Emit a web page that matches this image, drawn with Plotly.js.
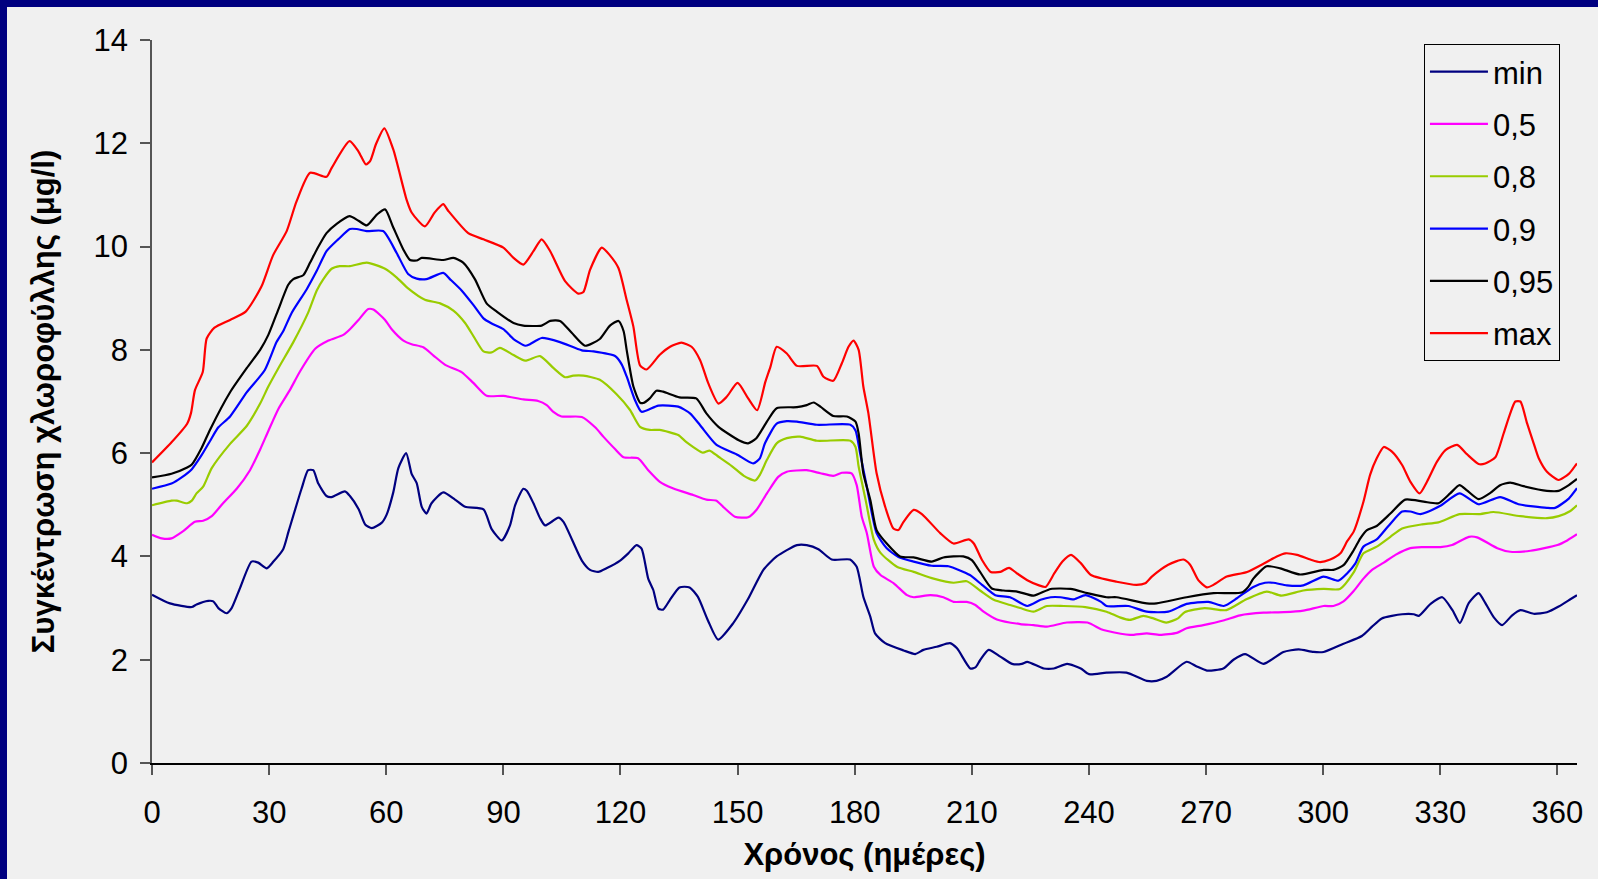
<!DOCTYPE html>
<html>
<head>
<meta charset="utf-8">
<script src="https://cdn.plot.ly/plotly-3.0.1.min.js"></script>
<style>
  html, body { margin: 0; padding: 0; background: #000080; width: 1598px; height: 879px; overflow: hidden; }
  #chart { position: absolute; left: 7px; top: 7px; width: 1591px; height: 872px; background: #f0f0f0; }
</style>
</head>
<body>
<div id="chart"></div>
<script>
// [day, value] pairs
const minData = [[0,3.26],[4.6,3.09],[10.2,3.02],[11.4,3.07],[14.4,3.14],[15.7,3.13],[17,3.00],[19.1,2.90],[20.4,3.00],[22.5,3.38],[25.5,3.90],[27.2,3.88],[29.4,3.77],[31.1,3.90],[33.6,4.14],[35,4.49],[38.3,5.31],[40,5.67],[41.3,5.67],[42.6,5.41],[44.7,5.17],[46,5.15],[49.4,5.26],[50.7,5.17],[52.9,4.92],[54.6,4.62],[56.3,4.55],[58.8,4.65],[60.1,4.81],[61.8,5.24],[63.1,5.71],[65.1,6.00],[66.5,5.60],[67.8,5.42],[69.1,4.96],[70.3,4.83],[71.6,5.03],[74.6,5.24],[77.6,5.10],[80.2,4.96],[84.9,4.91],[87,4.53],[89.6,4.31],[91.7,4.60],[93,4.99],[95.1,5.31],[96,5.27],[97.7,5.03],[99.4,4.74],[100.7,4.60],[104.1,4.75],[105.4,4.67],[110.1,3.92],[112.2,3.74],[114.3,3.70],[116.4,3.77],[119.9,3.92],[122,4.06],[124.1,4.22],[125.4,4.15],[127.1,3.57],[128.4,3.35],[129.7,2.99],[130.9,2.97],[132.6,3.15],[135.1,3.40],[137.7,3.40],[139.8,3.22],[142.4,2.76],[145,2.39],[148.8,2.70],[152.7,3.18],[156.6,3.74],[160,4.00],[165.2,4.22],[167.7,4.22],[170.7,4.14],[174.1,3.94],[178.8,3.94],[180.5,3.80],[182.2,3.22],[184,2.83],[185.2,2.51],[187.8,2.32],[192.5,2.18],[195.5,2.11],[197.6,2.19],[201,2.25],[204.4,2.32],[206.2,2.22],[209.6,1.83],[210.9,1.85],[212.1,1.99],[214.3,2.19],[217.3,2.06],[220.3,1.92],[222.8,1.92],[224.2,1.96],[228.4,1.83],[231,1.83],[234.4,1.92],[237.9,1.83],[240,1.72],[244.5,1.75],[249.6,1.75],[254.8,1.59],[257.3,1.59],[259.9,1.67],[265,1.96],[267.6,1.87],[270.2,1.79],[274.4,1.83],[277,2.00],[280,2.11],[284.7,1.92],[289.8,2.15],[293.7,2.20],[297.5,2.15],[300.1,2.15],[305.2,2.31],[309.9,2.46],[312.5,2.64],[315,2.80],[320.2,2.88],[323.2,2.88],[324.5,2.85],[327.5,3.08],[330.5,3.21],[333.1,2.96],[335,2.71],[337.3,3.10],[339.8,3.29],[341.5,3.10],[343.7,2.82],[345.8,2.67],[348.4,2.86],[350.5,2.96],[353.9,2.89],[357.3,2.92],[360.3,3.03],[363.3,3.17],[365,3.25]];

const p50Data = [[0,4.42],[2.5,4.35],[5,4.35],[8,4.49],[11,4.67],[13.1,4.69],[15.3,4.78],[18.2,5.03],[21.7,5.31],[25.1,5.67],[27.7,6.07],[29.8,6.43],[32.4,6.86],[35.3,7.22],[37.9,7.58],[41.8,8.02],[45.2,8.18],[49,8.29],[50.7,8.40],[52.9,8.58],[55.4,8.79],[56.7,8.78],[59.7,8.58],[61.4,8.40],[64.4,8.18],[66.5,8.11],[69.5,8.05],[72.1,7.89],[75.1,7.71],[79.3,7.57],[82.3,7.36],[85.7,7.11],[90,7.11],[95.1,7.04],[98.9,7.01],[101.1,6.93],[102.8,6.80],[104.9,6.71],[110.1,6.70],[113.5,6.50],[115.6,6.32],[118.6,6.08],[120.8,5.92],[124.5,5.90],[127.1,5.67],[130,5.45],[133.4,5.32],[138.6,5.19],[142,5.10],[144.6,5.08],[146.3,4.96],[149.3,4.77],[152.7,4.76],[154.8,4.90],[157.5,5.22],[160.4,5.54],[162.6,5.64],[167.7,5.67],[171.2,5.61],[174.5,5.56],[176.7,5.62],[179.2,5.61],[180.5,5.38],[181.8,4.77],[183.1,4.45],[184.9,3.80],[186.6,3.64],[190,3.48],[193.4,3.25],[195.1,3.21],[199.4,3.25],[202.7,3.21],[205.3,3.12],[208.7,3.12],[210.9,3.06],[213,2.93],[216.4,2.78],[222.4,2.69],[225.8,2.67],[229.2,2.64],[234.3,2.72],[239.6,2.72],[243.1,2.59],[244.5,2.56],[250.5,2.48],[254.8,2.51],[258.2,2.48],[262.5,2.52],[265,2.61],[269.3,2.67],[274.4,2.76],[278.7,2.86],[284.7,2.91],[289.9,2.92],[294.9,2.95],[300.1,3.04],[302.6,3.04],[305.2,3.13],[307.8,3.33],[310.3,3.57],[312.5,3.74],[315.5,3.88],[318.5,4.03],[322.3,4.16],[325.3,4.18],[330,4.18],[333,4.22],[337.3,4.38],[339.4,4.37],[344.6,4.16],[347.9,4.09],[353.1,4.11],[360,4.22],[362.5,4.31],[365,4.43]];

const p80Data = [[0,4.99],[5,5.08],[6.3,5.08],[9,5.03],[10.2,5.08],[11.4,5.22],[13.1,5.35],[15.3,5.71],[20,6.18],[24.3,6.53],[27.7,6.96],[29.8,7.29],[32.4,7.65],[36.2,8.15],[40,8.72],[42.2,9.15],[43.9,9.37],[46,9.57],[48.1,9.62],[50.7,9.62],[55,9.69],[59.7,9.57],[62.7,9.40],[65.6,9.19],[69.9,8.97],[73.8,8.90],[77.2,8.76],[80.2,8.52],[82.7,8.22],[84.9,7.97],[87,7.95],[89.1,8.04],[92.6,7.90],[95.6,7.79],[99.4,7.88],[102.8,7.65],[105.8,7.47],[107.9,7.50],[110.5,7.50],[114.7,7.42],[119,7.14],[122.4,6.84],[125,6.51],[127.5,6.45],[130,6.45],[134.8,6.35],[136.8,6.22],[141.1,6.01],[142.8,6.05],[145.1,5.93],[148.5,5.75],[151.6,5.56],[154.5,5.47],[155.7,5.58],[157.5,5.87],[160,6.19],[162.6,6.29],[166,6.32],[170.3,6.24],[178.9,6.24],[180.2,6.12],[181,5.74],[182.8,5.09],[184.9,4.32],[186.6,4.07],[190.8,3.80],[195.1,3.70],[200.2,3.57],[205.3,3.49],[208.7,3.52],[212.1,3.34],[215.6,3.16],[219.8,3.06],[222.4,3.00],[225.8,2.93],[229.2,3.04],[233.5,3.04],[239.1,3.02],[244.5,2.93],[247.9,2.82],[250.5,2.77],[253.9,2.85],[256.5,2.80],[259.8,2.72],[262.8,2.80],[264.5,2.92],[269.6,3.00],[275.2,2.96],[280.3,3.17],[285.5,3.32],[289.3,3.24],[294.9,3.34],[300.1,3.37],[304.3,3.37],[307.8,3.69],[310.3,4.06],[313.7,4.19],[317.2,4.38],[320.2,4.54],[325.3,4.62],[329.5,4.66],[334.9,4.82],[340.2,4.82],[343.6,4.86],[350.5,4.78],[357.3,4.74],[360.3,4.78],[363.3,4.88],[365,4.99]];

const p90Data = [[0,5.31],[5,5.41],[7.6,5.53],[10.2,5.69],[12.7,5.96],[14.9,6.24],[17,6.50],[20,6.71],[24.3,7.18],[28.9,7.61],[31.9,8.15],[33.6,8.36],[35.8,8.72],[39.6,9.17],[42.2,9.53],[44.7,9.91],[47.7,10.14],[50.7,10.34],[52.4,10.34],[55,10.30],[59.2,10.30],[62.7,9.87],[65.6,9.47],[67.8,9.38],[70.3,9.37],[74.6,9.49],[76.3,9.37],[79.3,9.15],[82.3,8.87],[84.9,8.61],[87,8.51],[90,8.40],[92.6,8.21],[95.6,8.08],[96.8,8.11],[99.8,8.23],[104.5,8.15],[110.1,7.99],[113.1,7.97],[118.6,7.88],[120.3,7.72],[121.6,7.48],[123.7,7.03],[125.4,6.80],[129.7,6.92],[134.8,6.90],[137.8,6.77],[140.4,6.54],[144.6,6.16],[149.7,5.98],[154,5.80],[155.7,5.90],[157,6.19],[160,6.57],[162.6,6.62],[165.2,6.61],[170.3,6.55],[178.9,6.55],[180.2,6.44],[181.4,5.99],[183.1,5.35],[185.6,4.45],[188.2,4.16],[191.2,3.99],[195.1,3.90],[199.7,3.82],[204,3.81],[209.5,3.64],[212.6,3.45],[216,3.25],[219.8,3.21],[224.2,3.04],[227.6,3.16],[230.2,3.21],[232.7,3.21],[236.2,3.17],[239.1,3.25],[243.1,3.12],[244.5,3.04],[250.1,3.04],[254.8,2.93],[260.3,2.93],[265,3.08],[270.6,3.12],[274.5,3.04],[277.9,3.19],[282.1,3.41],[285.1,3.49],[287.2,3.49],[290.7,3.44],[294.9,3.44],[300.1,3.61],[303.9,3.53],[306.1,3.67],[308.2,3.86],[310.3,4.19],[313.7,4.33],[316.7,4.59],[320.2,4.87],[322.3,4.87],[324.9,4.82],[330,4.98],[334.9,5.22],[339.8,5.01],[345.3,5.15],[350,5.01],[357.3,4.94],[359.4,4.94],[362.9,5.12],[365,5.32]];

const p95Data = [[0,5.53],[5,5.60],[9,5.72],[10.2,5.78],[12.7,6.10],[14.9,6.46],[20,7.18],[24.3,7.65],[27.7,8.00],[29.8,8.29],[32.4,8.79],[34.9,9.26],[36.2,9.37],[38.8,9.45],[40.5,9.69],[42.2,9.94],[44.7,10.26],[47.3,10.44],[50.6,10.59],[52.9,10.50],[55,10.41],[57.6,10.62],[59.7,10.72],[61.8,10.37],[64.4,9.94],[66.1,9.74],[67.8,9.73],[69.1,9.78],[74.6,9.74],[77.2,9.78],[79.7,9.69],[82.7,9.37],[85.7,8.90],[88.3,8.74],[92.6,8.52],[95.1,8.47],[99.8,8.47],[102,8.56],[104.5,8.56],[107.5,8.33],[110.9,8.08],[114.7,8.21],[117.3,8.47],[119.5,8.56],[120.8,8.36],[121.6,7.99],[123.3,7.29],[125,6.98],[125.8,6.97],[127.5,7.06],[129.2,7.21],[130.9,7.19],[135.1,7.08],[139.4,7.06],[142,6.77],[145.1,6.51],[150.3,6.25],[152.7,6.19],[154.8,6.29],[157.5,6.61],[160,6.87],[165.2,6.89],[167.7,6.93],[169.5,6.98],[171.2,6.90],[174.5,6.72],[178,6.71],[180.2,6.61],[181,6.38],[182.2,5.61],[184,5.09],[185.6,4.51],[188.2,4.25],[191.6,4.00],[195.1,3.98],[199.7,3.90],[202.7,3.98],[205.3,4.00],[207.8,4.00],[210,3.93],[212.1,3.70],[215.1,3.38],[218.1,3.34],[221.6,3.32],[225.8,3.24],[230.2,3.37],[235.3,3.37],[239.6,3.29],[244.5,3.21],[247.1,3.21],[254.8,3.09],[257.3,3.09],[265,3.21],[271.9,3.29],[279.1,3.30],[280.8,3.41],[282.1,3.57],[285.5,3.81],[289,3.77],[294.1,3.65],[300.1,3.74],[302.6,3.74],[305.2,3.83],[307.8,4.12],[309.5,4.35],[311.2,4.51],[313.7,4.59],[317.2,4.83],[321,5.10],[325.7,5.06],[329.5,5.03],[332.5,5.22],[334.9,5.38],[336.8,5.28],[339.8,5.11],[342.8,5.23],[345.3,5.38],[347.9,5.43],[351.3,5.36],[357.3,5.27],[360.3,5.27],[362.9,5.38],[365,5.50]];

const maxData = [[0,5.82],[5,6.21],[9,6.57],[10,6.78],[11,7.22],[13,7.57],[14,8.22],[16,8.43],[20,8.58],[24,8.74],[28,9.22],[31,9.83],[34.5,10.30],[37,10.87],[40.5,11.43],[44.7,11.35],[46,11.52],[50.6,12.04],[52.9,11.84],[54.8,11.59],[55.9,11.66],[57.4,11.99],[59.5,12.29],[61.8,11.88],[65.2,10.91],[66.5,10.66],[69.9,10.39],[72.4,10.66],[74.6,10.82],[75.9,10.69],[81,10.26],[84.9,10.14],[90,9.98],[92.6,9.78],[95.1,9.65],[97.7,9.91],[99.8,10.14],[102,9.91],[105.8,9.33],[109.2,9.09],[110.5,9.12],[112.2,9.55],[115.2,9.98],[117.3,9.83],[119.5,9.58],[121.6,8.96],[123.3,8.45],[125,7.70],[126.7,7.62],[130,7.90],[132.7,8.06],[135.6,8.14],[138.2,8.06],[140.4,7.80],[142.5,7.35],[145.1,6.96],[147.2,7.09],[150,7.36],[152.7,7.06],[155,6.83],[157.1,7.38],[158.4,7.67],[160,8.06],[162.6,7.93],[165.2,7.69],[170.3,7.69],[172,7.48],[174.5,7.40],[176.7,7.74],[178.4,8.06],[179.7,8.18],[181,8.00],[182.2,7.29],[183.5,6.77],[185.6,5.61],[187.8,4.96],[189.9,4.54],[191.2,4.51],[192.5,4.67],[195.1,4.90],[197.2,4.82],[201.9,4.45],[205.3,4.25],[209.2,4.33],[210.5,4.25],[212.6,3.93],[214.8,3.70],[217.3,3.70],[219.5,3.78],[221.6,3.67],[224.2,3.54],[227.2,3.44],[228.9,3.41],[231.1,3.67],[233.2,3.90],[235.4,4.03],[237.9,3.87],[240.5,3.64],[247.1,3.51],[252.2,3.45],[254.4,3.48],[256.1,3.61],[260.3,3.84],[264.2,3.94],[265.9,3.84],[268,3.54],[270.2,3.40],[271.9,3.45],[275.3,3.61],[280.5,3.70],[284.7,3.86],[288.1,4.00],[290.3,4.06],[293.3,4.03],[296.7,3.94],[299.2,3.89],[301.8,3.94],[304.4,4.06],[306.1,4.29],[307.8,4.48],[310.3,5.06],[312,5.58],[313.7,5.90],[315.5,6.12],[317.6,6.03],[320.2,5.77],[322.3,5.45],[324.7,5.22],[326.6,5.45],[329.1,5.83],[331.3,6.06],[334.3,6.16],[336.8,5.98],[339.8,5.79],[341.5,5.80],[344.1,5.92],[346.2,6.38],[347.9,6.77],[349.2,7.00],[350.5,7.00],[352.2,6.58],[353.9,6.19],[355.2,5.90],[357.3,5.64],[360.3,5.48],[362.9,5.60],[364.2,5.72],[365,5.80]];

const seriesNames = ['min', '0,5', '0,8', '0,9', '0,95', 'max'];
const seriesData = [minData, p50Data, p80Data, p90Data, p95Data, maxData];
const seriesColors = ['#000080', '#ff00ff', '#99cc00', '#0000ff', '#000000', '#ff0000'];
const xTickVals = [0, 30, 60, 90, 120, 150, 180, 210, 240, 270, 300, 330, 360];
const xTitle = 'Χρόνος (ημέρες)';
const yTitle = 'Συγκέντρωση χλωροφύλλης (μg/l)';

const FONT = '"Liberation Sans", Arial, sans-serif';

const traces = seriesData.map((d, i) => ({
  type: 'scatter',
  mode: 'lines',
  name: seriesNames[i],
  legendgroup: 'g' + i,
  x: d.map(p => p[0]),
  y: d.map(p => p[1]),
  line: { color: seriesColors[i], width: 2.2, shape: 'spline', smoothing: 0.6 },
  hoverinfo: 'x+y+name'
}));

const layout = {
  width: 1591,
  height: 872,
  paper_bgcolor: '#f0f0f0',
  plot_bgcolor: '#f0f0f0',
  margin: { l: 145, r: 21, t: 33, b: 116, pad: 0 },
  font: { family: FONT, size: 31, color: '#000' },
  showlegend: true,
  legend: {
    x: 0.8926, y: 0.9945, xanchor: 'left', yanchor: 'top',
    bgcolor: '#f0f0f0', bordercolor: '#000', borderwidth: 1,
    font: { family: FONT, size: 31, color: '#000' },
    tracegroupgap: 9,
    traceorder: 'grouped',
    itemwidth: 58
  },
  xaxis: {
    range: [0, 365],
    tickvals: xTickVals,
    ticktext: xTickVals.map(String),
    showgrid: false, zeroline: false,
    showline: true, linecolor: '#000', linewidth: 1.5,
    ticks: 'outside', ticklen: 10, tickwidth: 1.5, tickcolor: '#555',
    tickfont: { family: FONT, size: 31, color: '#000' },
    ticklabelstandoff: 11,
    title: { text: xTitle, font: { family: FONT, size: 31, color: '#000', weight: 'bold' }, standoff: 14 }
  },
  yaxis: {
    range: [0, 14],
    dtick: 2,
    showgrid: false, zeroline: false,
    showline: true, linecolor: '#555', linewidth: 1.5,
    ticks: 'outside', ticklen: 10, tickwidth: 1.5, tickcolor: '#555',
    tickfont: { family: FONT, size: 31, color: '#000' },
    ticklabelstandoff: 6,
    title: { text: yTitle, font: { family: FONT, size: 31, color: '#000', weight: 'bold' }, standoff: 30 }
  }
};

Plotly.newPlot('chart', traces, layout, { displayModeBar: false, staticPlot: false });
</script>
</body>
</html>
